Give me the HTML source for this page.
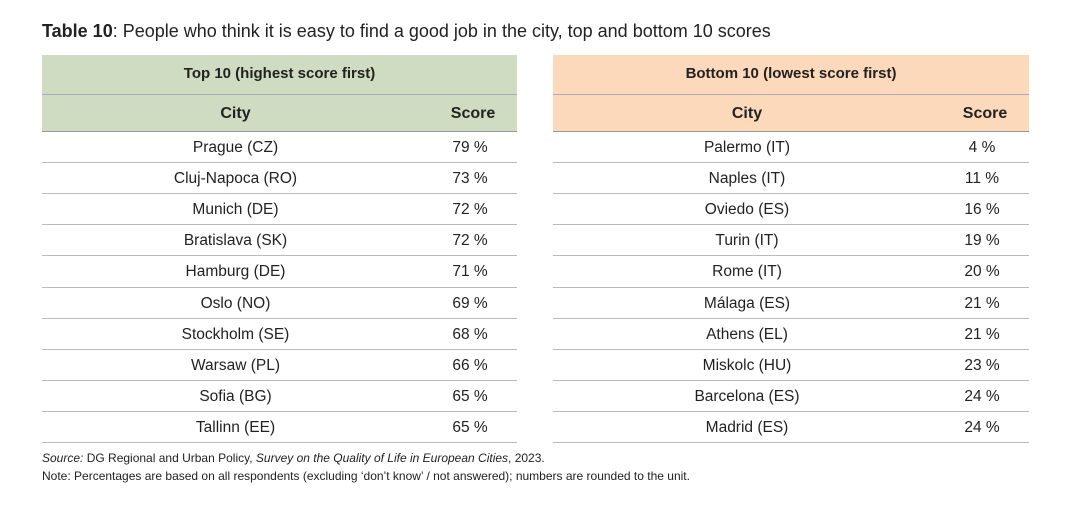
<!DOCTYPE html>
<html><head><meta charset="utf-8"><style>
body{margin:0;width:1080px;height:511px;background:#fff;font-family:"Liberation Sans",sans-serif;color:#222;position:relative;overflow:hidden}
.t{position:absolute;white-space:nowrap}
.hdr{position:absolute;font-weight:bold;font-size:15px;text-align:center}
.line{position:absolute;height:1px;background:#bbb}
.cell{position:absolute;font-size:15.5px;text-align:center;line-height:31px}
</style></head><body>
<div class="t" style="left:42px;top:21px;font-size:18px"><b>Table 10</b>: People who think it is easy to find a good job in the city, top and bottom 10 scores</div>
<div id="root"></div>
<div class="t" style="left:42px;top:451px;font-size:12px"><i>Source:</i> DG Regional and Urban Policy, <i>Survey on the Quality of Life in European Cities</i>, 2023.</div>
<div class="t" style="left:42px;top:469px;font-size:12px">Note: Percentages are based on all respondents (excluding ‘don’t know’ / not answered); numbers are rounded to the unit.</div>
<script>
const topCities=["Prague (CZ)","Cluj-Napoca (RO)","Munich (DE)","Bratislava (SK)","Hamburg (DE)","Oslo (NO)","Stockholm (SE)","Warsaw (PL)","Sofia (BG)","Tallinn (EE)"];
const topScores=[79,73,72,72,71,69,68,66,65,65];
const bottomCities=["Palermo (IT)","Naples (IT)","Oviedo (ES)","Turin (IT)","Rome (IT)","Málaga (ES)","Athens (EL)","Miskolc (HU)","Barcelona (ES)","Madrid (ES)"];
const bottomScores=[4,11,16,19,20,21,21,23,24,24];
const root=document.getElementById('root');
function mk(cls,name,style,text){const d=document.createElement('div');d.className=cls;


d.style.cssText=style;if(text!==undefined)d.textContent=text;root.appendChild(d);return d;}
function table(x,w,bg,title,cities,scores,key){
 const cityW=w-88;
 mk('hdr',key+'-header-band','left:'+x+'px;top:55px;width:'+w+'px;height:76px;background:'+bg);
 mk('hdr',key+'-title','left:'+x+'px;top:55px;width:'+w+'px;line-height:38px',title);
 mk('line',key+'-header-divider','left:'+x+'px;top:94px;width:'+w+'px;background:#aab');
 mk('hdr',key+'-city-header','left:'+x+'px;top:96px;width:'+cityW+'px;font-size:16px;line-height:36px','City');
 mk('hdr',key+'-score-header','left:'+(x+cityW)+'px;top:96px;width:88px;font-size:16px;line-height:36px','Score');
 mk('line',key+'-header-bottom','left:'+x+'px;top:131px;width:'+w+'px;background:#999');
 const rh=31.1;
 cities.forEach((c,i)=>{
  const y=132+i*rh;
  mk('cell',key+'-city-'+(i+1),'left:'+x+'px;top:'+y+'px;width:'+cityW+'px',c);
  mk('cell',key+'-score-'+(i+1),'left:'+(x+cityW)+'px;top:'+y+'px;width:82px',scores[i]+' %');
  mk('line',key+'-row-line-'+(i+1),'left:'+x+'px;top:'+Math.round(131+(i+1)*rh)+'px;width:'+w+'px');
 });
}
table(42,475,'#d0dcc1','Top 10 (highest score first)',topCities,topScores,'top10');
table(553,476,'#fdd9bb','Bottom 10 (lowest score first)',bottomCities,bottomScores,'bottom10');
</script>
</body></html>
